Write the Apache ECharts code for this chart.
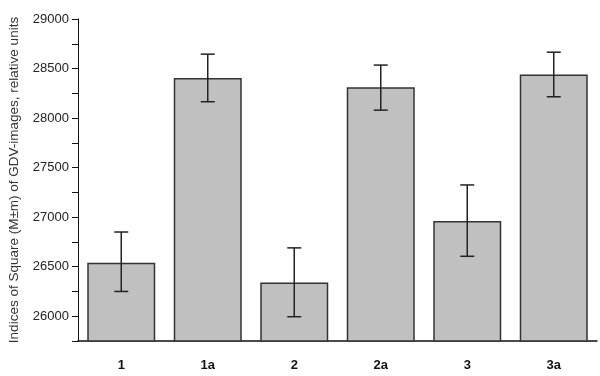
<!DOCTYPE html>
<html>
<head>
<meta charset="utf-8">
<script src="https://cdn.jsdelivr.net/npm/echarts@6/dist/echarts.min.js"></script>
<style>
    html, body {margin: 0; padding: 0; background: #fff;}
    #chart {width: 600px; height: 376px;}
</style>
</head>
<body>
<div id="chart"></div>
<script>
// groups on x
const categories = ['1', '1a', '2', '2a', '3', '3a'];
// mean values (M)
const means = [26540, 28405, 26340, 28310, 26960, 28440];
// error bar ends (M-m, M+m)
const errLow = [26250, 28165, 25995, 28080, 26605, 28215];
const errHigh = [26850, 28645, 26690, 28535, 27325, 28665];

const yName = 'Indices of Square (M\u00b1m) of GDV-images, relative units';
const fontFamily = '"Liberation Sans", Arial, sans-serif';

let errData = categories.map((c, i) => [i, errLow[i], errHigh[i]]);

function renderErr(params, api) {
    let p0 = api.coord([api.value(0), api.value(1)]),
        p1 = api.coord([api.value(0), api.value(2)]),
        w = 7;
    let style = {stroke: '#222', lineWidth: 1.5};
    return {
        type: 'group',
        children: [
            {type: 'line', shape: {x1: p0[0], y1: p0[1], x2: p1[0], y2: p1[1]}, style: style},
            {type: 'line', shape: {x1: p0[0] - w, y1: p0[1], x2: p0[0] + w, y2: p0[1]}, style: style},
            {type: 'line', shape: {x1: p1[0] - w, y1: p1[1], x2: p1[0] + w, y2: p1[1]}, style: style}
        ]
    };
}

const chart = echarts.init(document.getElementById('chart'));

chart.setOption({
    animation: false,
    grid: {left: 78, right: 3, top: 19, bottom: 35, containLabel: false, outerBoundsMode: 'none'},
    xAxis: [{
        type: 'category',
        data: categories,
        position: 'bottom',
        axisLine: {lineStyle: {color: '#111', width: 1.5}},
        axisTick: {length: 4, lineStyle: {color: '#111'}},
        axisLabel: {
            color: '#111', fontSize: 13, fontWeight: 'bold',
            fontFamily: fontFamily, margin: 18
        }
    }, {
        // second axis only for the ticks under the bars
        type: 'category',
        data: categories,
        position: 'bottom',
        axisLine: {show: false},
        axisTick: {alignWithLabel: true, length: 7, lineStyle: {color: '#111'}},
        axisLabel: {show: false}
    }],
    yAxis: {
        type: 'value',
        min: 25750,
        max: 29000,
        interval: 250,
        name: yName,
        nameLocation: 'middle',
        nameGap: 57,
        nameTextStyle: {color: '#333', fontSize: 13.5, fontFamily: fontFamily},
        splitLine: {show: false},
        axisLine: {show: true, lineStyle: {color: '#111', width: 1}},
        axisTick: {show: true, length: 6, lineStyle: {color: '#111'}},
        axisLabel: {
            color: '#222', fontSize: 13, fontFamily: fontFamily, margin: 9,
            formatter: (v) => (v % 500 === 0 && v > 25750) ? String(v) : ''
        }
    },
    series: [{
        type: 'bar',
        data: means,
        barWidth: 68,
        itemStyle: {color: '#c0c0c0', borderColor: '#333', borderWidth: 1.5}
    }, {
        type: 'custom',
        data: errData,
        renderItem: renderErr,
        z: 5
    }]
});
</script>
</body>
</html>
